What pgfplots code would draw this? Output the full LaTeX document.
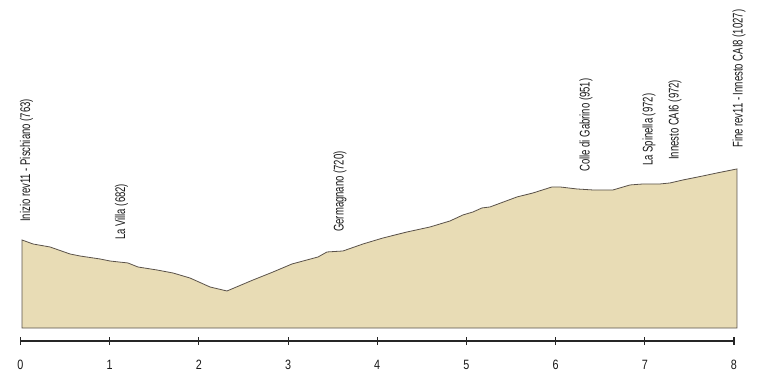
\documentclass[border=0pt]{standalone}
\usepackage{fontspec}
\setmainfont{Liberation Sans}
\newfontfamily\condfont{Liberation Sans}[FakeStretch=0.68]
\newfontfamily\digfont{Liberation Sans}[FakeStretch=0.8]
\usepackage{pgfplots}
\pgfplotsset{compat=1.18}
\definecolor{terrain}{HTML}{E8DCB5}
\definecolor{edge}{HTML}{5A524A}
\begin{document}
\begin{tikzpicture}
\path[use as bounding box] (0,0) rectangle (763pt,375pt);
\begin{axis}[
 at={(20.5pt,34pt)}, anchor=south west,
 scale only axis, width=713.5pt, height=341pt,
 xmin=0, xmax=8, ymin=387.5, ymax=1655,
 axis x line=bottom, axis y line=none,
 x axis line style={-, line width=1.1pt, black!85},
 xtick={0,...,8}, xticklabels={0,1,2,3,4,5,6,7,8},
 tick align=center, major tick length=8pt,
 tick style={line width=1.1pt, black!85},
 xticklabel style={font=\digfont\fontsize{13.5}{13.5}\selectfont, anchor=base, yshift=-24pt, inner sep=0pt, text=black!90},
 clip=false,
]
\addplot[fill=terrain, draw=edge, line width=0.8pt] coordinates {
(0.017,435.8) (0.017,763) (0.140,748.1) (0.331,737.0) (0.555,711.0) (0.667,703.5)
(0.891,692.4) (1.003,684.9) (1.205,677.5) (1.317,662.6) (1.530,651.5) (1.710,640.3)
(1.900,621.7) (2.125,588.3) (2.315,573.4) (2.607,614.3) (2.831,644.0) (3.044,673.8)
(3.336,699.8) (3.436,718.4) (3.616,722.1) (3.840,748.1) (4.064,770.4) (4.333,792.7)
(4.591,811.3) (4.815,833.6) (4.961,856.0) (5.073,867.1) (5.174,882.0) (5.264,885.7)
(5.567,922.9) (5.746,937.7) (5.959,960.1) (6.049,960.1) (6.239,952.6) (6.419,948.9)
(6.643,948.9) (6.834,967.5) (6.980,971.2) (7.170,971.2) (7.282,974.9) (7.428,986.1)
(7.652,1001.0) (7.809,1012.1) (8.033,1027) (8.033,435.8)
} -- cycle;
\tikzset{lbl/.style={rotate=90, anchor=west, inner sep=0pt, text=black!90, font=\condfont\fontsize{14}{14}\selectfont}}
\node[lbl] at (axis cs:0.067,829.9) {Inizio rev11 - Pischiano (763)};
\node[lbl] at (axis cs:1.132,763) {La Villa (682)};
\node[lbl] at (axis cs:3.582,792.7) {Germagnano (720)};
\node[lbl] at (axis cs:6.340,1015.8) {Colle di Gabrino (951)};
\node[lbl] at (axis cs:7.047,1038.1) {La Spinella (972)};
\node[lbl] at (axis cs:7.338,1060.4) {Innesto CAI6 (972)};
\node[lbl] at (axis cs:8.056,1105.1) {Fine rev11 - Innesto CAI8 (1027)};
\end{axis}
\end{tikzpicture}
\end{document}
